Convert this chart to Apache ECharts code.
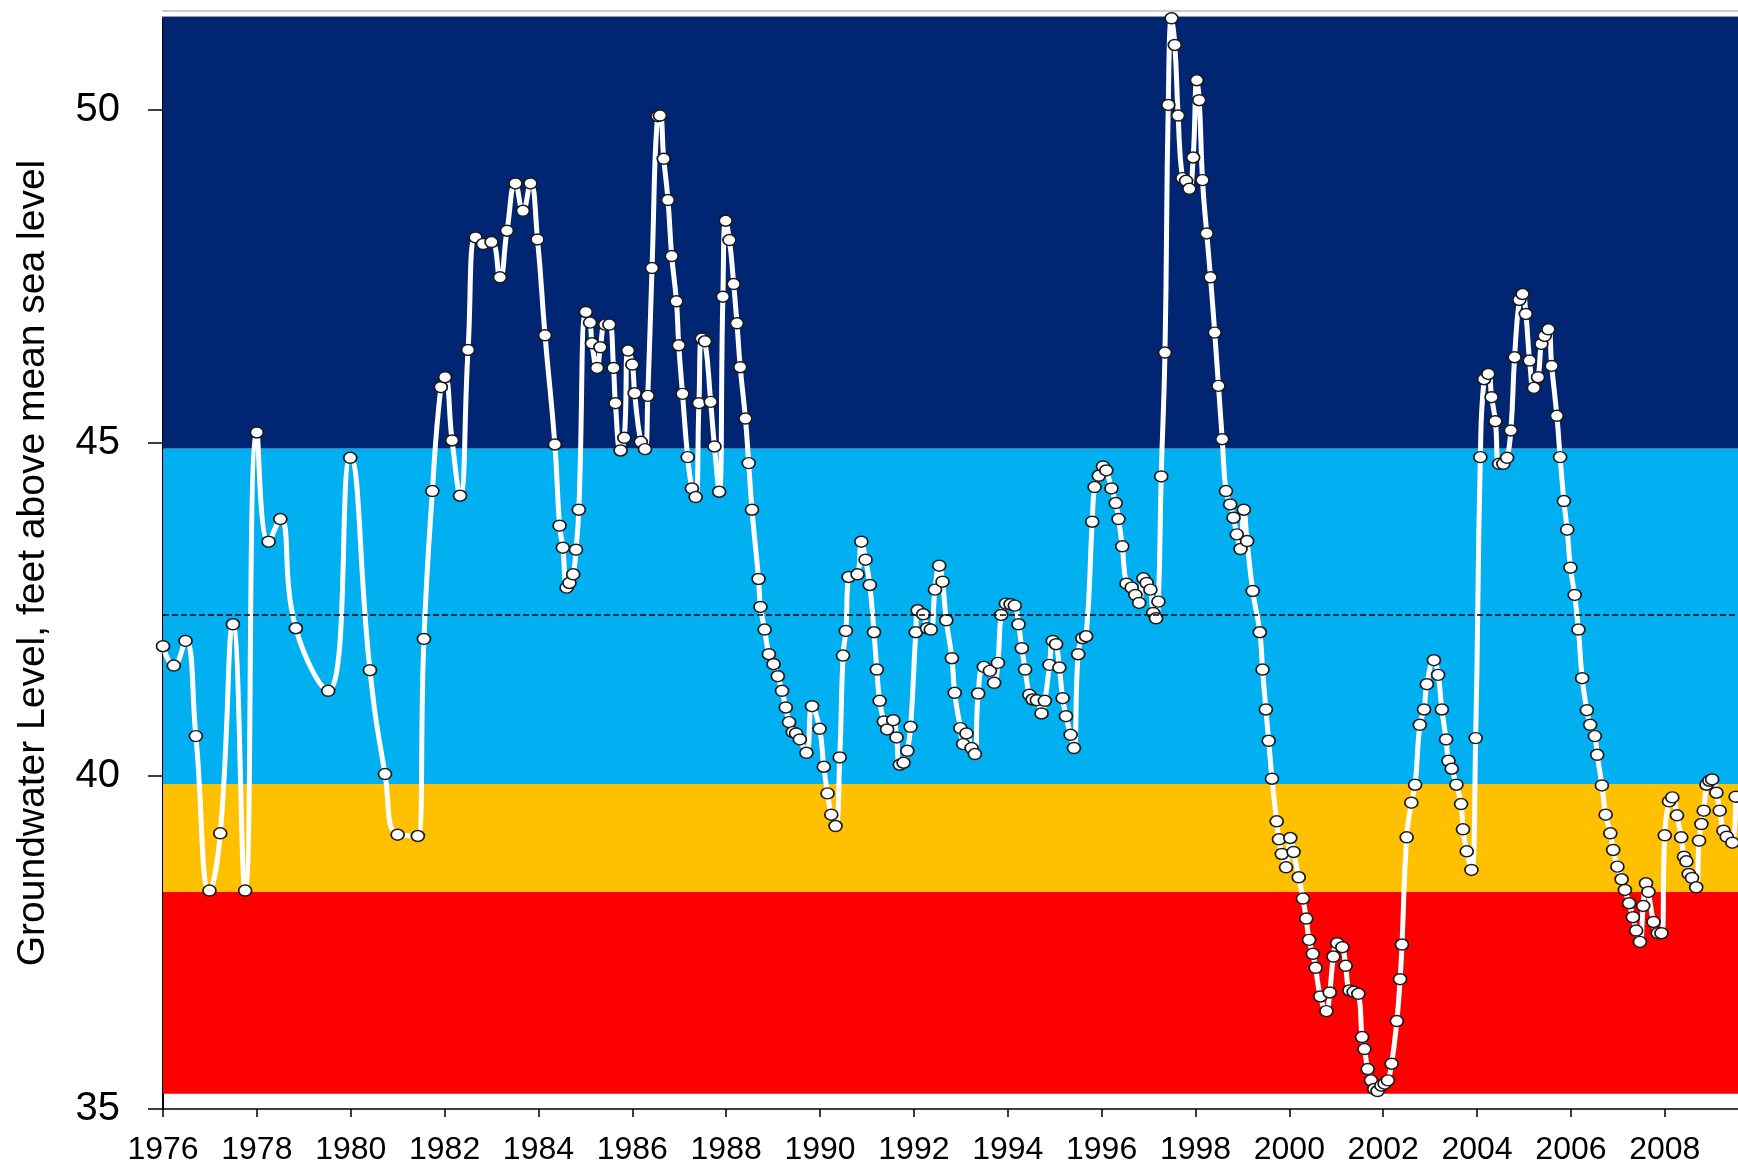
<!DOCTYPE html>
<html>
<head>
<meta charset="utf-8">
<script src="https://cdn.jsdelivr.net/npm/echarts@6/dist/echarts.min.js"></script>
<style>
html,body{margin:0;padding:0;background:#ffffff;}
#chart{width:1738px;height:1167px;}
</style>
</head>
<body>
<div id="chart"></div>
<script>
// Groundwater level observations: [decimal year, feet above mean sea level]
const obs1976to1984 = [
  [1976.0, 41.95],[1976.23, 41.66],[1976.48, 42.03],[1976.7, 40.6],[1976.99, 38.28],
  [1977.22, 39.14],[1977.49, 42.28],[1977.75, 38.28],[1978.0, 45.16],[1978.25, 43.52],
  [1978.5, 43.86],[1978.83, 42.22],[1979.52, 41.28],[1979.99, 44.78],[1980.41, 41.59],
  [1980.73, 40.03],[1981.0, 39.12],[1981.43, 39.1],[1981.56, 42.06],[1981.74, 44.28],
  [1981.92, 45.84],[1982.01, 45.99],[1982.16, 45.04],[1982.33, 44.21],[1982.5, 46.4],
  [1982.66, 48.09],[1982.82, 47.99],[1983.0, 48.02],[1983.18, 47.49],[1983.33, 48.19],
  [1983.51, 48.9],[1983.67, 48.49],[1983.83, 48.9],[1983.98, 48.06],[1984.14, 46.62],
  [1984.35, 44.98],[1984.45, 43.76],[1984.52, 43.43],[1984.6, 42.83],[1984.66, 42.9],
  [1984.74, 43.03],[1984.8, 43.4],[1984.86, 44.0]
];
const obs1985to1989 = [
  [1985.01, 46.97],[1985.1, 46.81],[1985.14, 46.5],[1985.25, 46.13],[1985.32, 46.44],
  [1985.42, 46.78],[1985.51, 46.78],[1985.6, 46.13],[1985.64, 45.6],[1985.75, 44.89],
  [1985.83, 45.08],[1985.91, 46.39],[1986.0, 46.18],[1986.05, 45.75],[1986.18, 45.02],
  [1986.27, 44.91],[1986.33, 45.71],[1986.42, 47.63],[1986.54, 49.91],[1986.59, 49.92],
  [1986.67, 49.27],[1986.76, 48.65],[1986.84, 47.81],[1986.94, 47.13],[1986.99, 46.47],
  [1987.07, 45.74],[1987.18, 44.79],[1987.27, 44.32],[1987.35, 44.19],[1987.42, 45.6],
  [1987.48, 46.57],[1987.55, 46.53],[1987.67, 45.62],[1987.75, 44.95],[1987.85, 44.27],
  [1987.93, 47.2],[1987.99, 48.34],[1988.07, 48.05],[1988.16, 47.39],[1988.23, 46.8],
  [1988.3, 46.14],[1988.41, 45.37],[1988.48, 44.7],[1988.55, 44.0],[1988.69, 42.96],
  [1988.73, 42.54],[1988.82, 42.2],[1988.91, 41.83],[1989.01, 41.68],[1989.1, 41.5],
  [1989.19, 41.28],[1989.27, 41.03],[1989.34, 40.81],[1989.42, 40.66],[1989.49, 40.64],
  [1989.57, 40.55],[1989.71, 40.35],[1989.83, 41.05],[1989.99, 40.71]
];
const obs1990to1996 = [
  [1990.08, 40.14],[1990.16, 39.74],[1990.24, 39.42],[1990.33, 39.25],[1990.42, 40.28],
  [1990.49, 41.81],[1990.55, 42.18],[1990.61, 42.99],[1990.8, 43.03],[1990.88, 43.52],
  [1990.97, 43.25],[1991.06, 42.87],[1991.15, 42.16],[1991.21, 41.6],[1991.27, 41.13],
  [1991.36, 40.82],[1991.43, 40.7],[1991.56, 40.84],[1991.63, 40.58],[1991.7, 40.17],
  [1991.78, 40.2],[1991.86, 40.38],[1991.93, 40.74],[1992.04, 42.16],[1992.08, 42.49],
  [1992.2, 42.43],[1992.28, 42.22],[1992.36, 42.2],[1992.45, 42.8],[1992.54, 43.16],
  [1992.61, 42.92],[1992.69, 42.34],[1992.81, 41.77],[1992.87, 41.25],[1992.99, 40.72],
  [1993.05, 40.48],[1993.12, 40.64],[1993.23, 40.42],[1993.3, 40.33],[1993.37, 41.24],
  [1993.49, 41.64],[1993.62, 41.58],[1993.71, 41.4],[1993.79, 41.7],[1993.86, 42.42],
  [1993.96, 42.59],[1994.06, 42.58],[1994.15, 42.56],[1994.23, 42.28],[1994.3, 41.92],
  [1994.37, 41.6],[1994.46, 41.22],[1994.53, 41.15],[1994.62, 41.14],[1994.72, 40.94],
  [1994.79, 41.13],[1994.89, 41.67],[1994.96, 42.03],[1995.03, 41.98],[1995.1, 41.63],
  [1995.17, 41.17],[1995.24, 40.9],[1995.34, 40.62],[1995.41, 40.42],[1995.5, 41.83],
  [1995.59, 42.07],[1995.67, 42.1],[1995.8, 43.82],[1995.85, 44.34],[1995.94, 44.51],
  [1996.03, 44.65],[1996.1, 44.59],[1996.21, 44.32],[1996.3, 44.1],[1996.36, 43.86],
  [1996.44, 43.45],[1996.53, 42.89],[1996.64, 42.83],[1996.72, 42.72],[1996.8, 42.6],
  [1996.89, 42.97],[1996.96, 42.9]
];
const obs1997to2002 = [
  [1997.04, 42.8],[1997.1, 42.45],[1997.16, 42.37],[1997.21, 42.62],[1997.27, 44.5],
  [1997.35, 46.36],[1997.42, 50.08],[1997.49, 51.38],[1997.56, 50.98],[1997.63, 49.92],
  [1997.72, 48.98],[1997.8, 48.94],[1997.87, 48.82],[1997.95, 49.29],[1998.03, 50.45],
  [1998.08, 50.15],[1998.15, 48.95],[1998.24, 48.15],[1998.32, 47.49],[1998.41, 46.66],
  [1998.49, 45.86],[1998.57, 45.06],[1998.65, 44.28],[1998.74, 44.08],[1998.81, 43.88],
  [1998.88, 43.63],[1998.96, 43.41],[1999.03, 44.0],[1999.1, 43.53],[1999.22, 42.78],
  [1999.37, 42.16],[1999.43, 41.6],[1999.5, 41.0],[1999.56, 40.53],[1999.63, 39.96],
  [1999.73, 39.32],[1999.78, 39.05],[1999.84, 38.83],[1999.93, 38.63],[2000.02, 39.07],
  [2000.09, 38.86],[2000.2, 38.48],[2000.29, 38.16],[2000.36, 37.86],[2000.42, 37.54],
  [2000.5, 37.33],[2000.56, 37.12],[2000.66, 36.69],[2000.79, 36.47],[2000.86, 36.75],
  [2000.94, 37.29],[2001.02, 37.49],[2001.13, 37.43],[2001.2, 37.15],[2001.28, 36.78],
  [2001.37, 36.76],[2001.47, 36.73],[2001.55, 36.08],[2001.6, 35.9],[2001.67, 35.6],
  [2001.74, 35.43],[2001.81, 35.3],[2001.88, 35.27],[2001.96, 35.35],[2002.03, 35.38],
  [2002.1, 35.43],[2002.18, 35.68],[2002.29, 36.32],[2002.36, 36.95],[2002.4, 37.47],
  [2002.5, 39.08],[2002.6, 39.6],[2002.68, 39.87],[2002.78, 40.77],[2002.87, 41.0],
  [2002.93, 41.38]
];
const obs2003to2009 = [
  [2003.08, 41.74],[2003.17, 41.52],[2003.25, 41.0],[2003.34, 40.55],[2003.39, 40.23],
  [2003.46, 40.11],[2003.56, 39.87],[2003.66, 39.58],[2003.7, 39.2],[2003.78, 38.87],
  [2003.88, 38.59],[2003.97, 40.57],[2004.07, 44.79],[2004.15, 45.96],[2004.24, 46.04],
  [2004.31, 45.69],[2004.39, 45.33],[2004.47, 44.69],[2004.56, 44.69],[2004.64, 44.78],
  [2004.72, 45.19],[2004.8, 46.29],[2004.9, 47.15],[2004.97, 47.24],[2005.04, 46.94],
  [2005.12, 46.24],[2005.21, 45.83],[2005.3, 45.99],[2005.37, 46.49],[2005.44, 46.61],
  [2005.52, 46.71],[2005.59, 46.16],[2005.7, 45.41],[2005.77, 44.79],[2005.85, 44.13],
  [2005.92, 43.7],[2005.99, 43.13],[2006.08, 42.72],[2006.16, 42.2],[2006.24, 41.47],
  [2006.34, 40.99],[2006.41, 40.77],[2006.51, 40.6],[2006.56, 40.32],[2006.66, 39.86],
  [2006.74, 39.42],[2006.84, 39.14],[2006.9, 38.89],[2006.99, 38.64],[2007.08, 38.45],
  [2007.15, 38.29],[2007.24, 38.09],[2007.32, 37.88],[2007.39, 37.68],[2007.47, 37.51],
  [2007.54, 38.05],[2007.6, 38.39],[2007.65, 38.26],[2007.76, 37.81],[2007.85, 37.64],
  [2007.93, 37.64],[2008.0, 39.11],[2008.09, 39.62],[2008.16, 39.68],[2008.26, 39.41],
  [2008.35, 39.08],[2008.41, 38.79],[2008.46, 38.72],[2008.51, 38.53],[2008.58, 38.47],
  [2008.67, 38.33],[2008.73, 39.03],[2008.78, 39.28],[2008.83, 39.48],[2008.89, 39.87],
  [2008.95, 39.93],[2009.01, 39.95],[2009.1, 39.75],[2009.17, 39.48],[2009.25, 39.18],
  [2009.32, 39.09],[2009.44, 39.0],[2009.51, 39.69]
];

// Condition bands (feet)
const bandLow   = [35.23, 38.26, 39.88, 44.92];
const bandHigh  = [38.26, 39.88, 44.92, 51.4];
const bandColor = ['#ff0000', '#ffc000', '#00b0f0', '#002673'];
const referenceLevel = 42.42;

// Axis ticks
const yTickValues = [35, 40, 45, 50];
const xTickYears = [1976, 1978, 1980, 1982, 1984, 1986, 1988, 1990, 1992, 1994, 1996, 1998, 2000, 2002, 2004, 2006, 2008];
const yTitle = 'Groundwater Level, feet above mean sea level';

const observations = [].concat(obs1976to1984, obs1985to1989, obs1990to1996, obs1997to2002, obs2003to2009);

const FONT = '"Liberation Sans", Arial, sans-serif';
const chart = echarts.init(document.getElementById('chart'), null, { renderer: 'canvas' });

chart.setOption({
  animation: false,
  backgroundColor: '#ffffff',
  grid: { left: 163, right: 0, top: 17, bottom: 58, containLabel: false },
  xAxis: [
    {
      type: 'value', min: 1976, max: 2009.56, interval: 2, position: 'bottom',
      axisLine: { show: true, onZero: false, lineStyle: { color: '#000', width: 1.5 } },
      axisTick: { show: true, inside: false, length: 8, customValues: xTickYears, lineStyle: { color: '#000', width: 1.5 } },
      axisLabel: { show: true, customValues: xTickYears, margin: 25, color: '#000', fontSize: 32, fontFamily: FONT,
        formatter: v => String(Math.round(v)) },
      splitLine: { show: false }
    },
    {
      type: 'value', min: 1976, max: 2009.56, position: 'top',
      axisLine: { show: true, onZero: false, lineStyle: { color: '#9c9c9c', width: 2 } },
      axisTick: { show: false }, axisLabel: { show: false }, splitLine: { show: false }
    },
    {
      type: 'value', min: 1976, max: 2009.56, position: 'top', offset: 6,
      axisLine: { show: true, onZero: false, lineStyle: { color: '#cccccc', width: 2 } },
      axisTick: { show: false }, axisLabel: { show: false }, splitLine: { show: false }
    }
  ],
  yAxis: {
    type: 'value', min: 35, max: 51.4, interval: 5,
    name: yTitle, nameLocation: 'middle', nameRotate: 90, nameGap: 110,
    nameTextStyle: { color: '#000', fontSize: 39, fontFamily: FONT },
    axisLine: { show: true, onZero: false, lineStyle: { color: '#000', width: 2 } },
    axisTick: { show: true, inside: false, length: 15, customValues: yTickValues, lineStyle: { color: '#000', width: 1.5 } },
    axisLabel: { show: true, customValues: yTickValues, margin: 43, color: '#000', fontSize: 40, fontFamily: FONT },
    splitLine: { show: false }
  },
  series: [
    {
      name: 'bands', type: 'line', data: [], z: 1, silent: true,
      markArea: {
        silent: true,
        data: bandLow.map((lo, i) => [
          { yAxis: lo, itemStyle: { color: bandColor[i], opacity: 1, borderWidth: 0 } },
          { yAxis: bandHigh[i] }
        ])
      },
      markLine: {
        silent: true, symbol: ['none', 'none'], label: { show: false },
        lineStyle: { color: '#000', type: [6, 3], width: 1.6, opacity: 1 },
        emphasis: { disabled: true },
        data: [{ yAxis: referenceLevel }]
      }
    },
    {
      name: 'Groundwater Level', type: 'line', data: observations, z: 3,
      smooth: 0.5, clip: false,
      symbol: 'circle', symbolSize: [13, 11],
      lineStyle: { color: '#ffffff', width: 5 },
      itemStyle: { color: '#ffffff', borderColor: '#1a1a1a', borderWidth: 1.6 },
      emphasis: { disabled: true }
    }
  ]
});
</script>
</body>
</html>
